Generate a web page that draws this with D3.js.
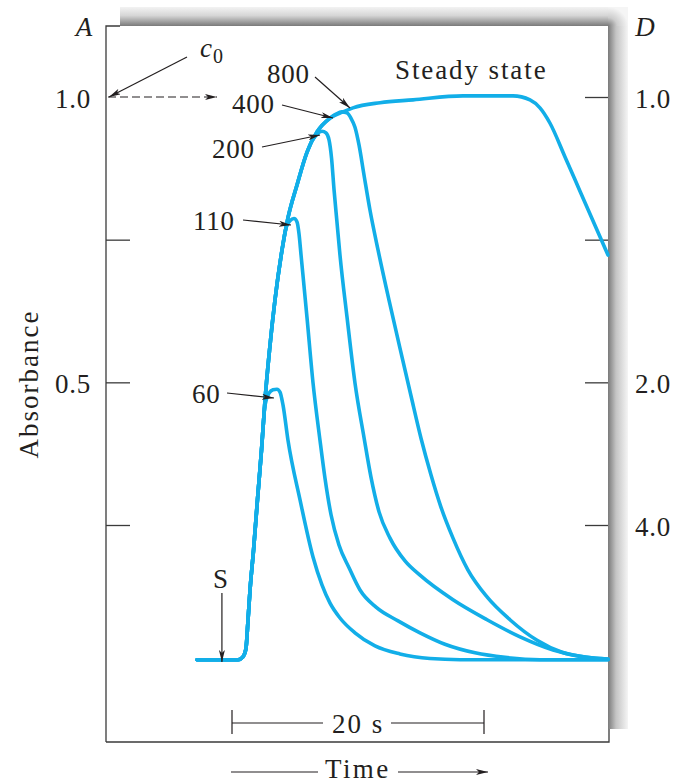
<!DOCTYPE html>
<html>
<head>
<meta charset="utf-8">
<script src="https://cdn.jsdelivr.net/npm/d3@7/dist/d3.min.js"></script>
<style>
  html, body { margin: 0; padding: 0; background: #fff; }
  svg { display: block; }
  text { font-family: "Liberation Serif", "Times New Roman", serif; fill: #231f20; }
</style>
</head>
<body>
<svg id="chart" width="677" height="784"></svg>
<script>
// Time in seconds (origin at the start of the 20 s scale bar), absorbance A.
// Every injection shares the same leading edge; each peak leaves it at branchAt.
const riseEdge = [[-2.78,0.014],[0.48,0.014],[0.87,0.019],[1.11,0.034],[1.27,0.083],[1.43,0.136],
  [1.71,0.206],[2.02,0.294],[2.34,0.381],[2.62,0.469],[2.98,0.557],[3.41,0.644],[3.97,0.732],
  [4.44,0.788],[5.16,0.846],[5.95,0.903],[6.75,0.939],[7.78,0.963],[8.81,0.974]];

const sampleVolumes = [60, 110, 200, 400, 800];
const branchTimes   = [2.34, 3.97, 5.95, 7.78, 8.81];

const tail60 = [[2.62,0.460],[2.94,0.481],[3.25,0.487],[3.57,0.488],[3.81,0.483],[4.05,0.460],
  [4.44,0.399],[5.40,0.294],[6.43,0.194],[7.14,0.145],[7.78,0.113],[8.57,0.087],[9.76,0.061],
  [11.35,0.038],[13.33,0.024],[15.71,0.016],[18.10,0.014],[29.84,0.014]];
const tail110 = [[4.29,0.771],[4.60,0.783],[4.92,0.787],[5.16,0.781],[5.32,0.760],[5.48,0.723],
  [5.95,0.614],[6.43,0.499],[6.98,0.399],[7.38,0.332],[7.86,0.268],[8.49,0.215],[9.29,0.175],
  [10.16,0.136],[11.43,0.106],[13.18,0.082],[14.92,0.061],[16.90,0.041],[19.29,0.026],
  [21.67,0.018],[24.44,0.014],[29.84,0.014]];
const tail200 = [[6.35,0.923],[6.75,0.935],[7.14,0.940],[7.46,0.937],[7.70,0.925],[7.90,0.893],
  [8.10,0.837],[8.33,0.781],[8.57,0.723],[9.13,0.614],[9.76,0.499],[10.48,0.403],[11.03,0.334],
  [11.67,0.273],[12.54,0.227],[13.73,0.187],[14.92,0.162],[17.54,0.119],[20.24,0.084],
  [22.86,0.054],[25.48,0.031],[27.62,0.020],[29.84,0.015]];
const tail400 = [[8.25,0.970],[8.73,0.974],[9.13,0.972],[9.44,0.963],[9.76,0.947],[10.08,0.916],
  [10.48,0.863],[10.95,0.802],[11.59,0.732],[12.46,0.644],[13.33,0.560],[14.21,0.476],
  [15.00,0.402],[15.79,0.338],[16.59,0.281],[17.54,0.227],[18.73,0.171],[20.24,0.124],
  [22.06,0.084],[24.21,0.048],[26.19,0.027],[28.17,0.018],[29.84,0.015]];
// 800 uL reaches the steady-state plateau before the trailing edge
const tail800 = [[9.60,0.981],[11.75,0.990],[14.37,0.995],[18.33,1.002],[22.30,1.002],
  [23.65,0.995],[24.44,0.981],[25.24,0.954],[26.43,0.895],[27.62,0.835],[29.84,0.723]];
const tails = [tail60, tail110, tail200, tail400, tail800];

// Axis ticks: absorbance on the left, dispersion D = c0/cmax on the right
const leftTicks   = [0.75, 0.5, 0.25];
const leftLabels  = [1.0, 0.5];
const rightTicks  = [1.0, 0.75, 0.5, 0.25];
const dispersionLabels = [1.0, 2.0, 4.0];
const injectionTime = -0.8;   // "S" marks the injection
const scaleBarSeconds = 20;

const svg = d3.select("#chart");
const ink = "#231f20";
const blue = "#12aee8";

const x = d3.scaleLinear().domain([0, 20]).range([232, 484]);
const y = d3.scaleLinear().domain([0.25, 1]).range([525, 97]);

const plot = { left: 106, right: 608, top: 26, bottom: 742 };

// ---- page shadow behind the plot frame ----
const defs = svg.append("defs");
const gTop = defs.append("linearGradient").attr("id", "shTop").attr("x1", 0).attr("y1", 0).attr("x2", 0).attr("y2", 1);
gTop.append("stop").attr("offset", "0%").attr("stop-color", "#f3f3f3");
gTop.append("stop").attr("offset", "45%").attr("stop-color", "#d6d6d6");
gTop.append("stop").attr("offset", "100%").attr("stop-color", "#7a7a7a");
const gRight = defs.append("linearGradient").attr("id", "shRight").attr("x1", 0).attr("y1", 0).attr("x2", 1).attr("y2", 0);
gRight.append("stop").attr("offset", "0%").attr("stop-color", "#7a7a7a");
gRight.append("stop").attr("offset", "40%").attr("stop-color", "#c4c4c4");
gRight.append("stop").attr("offset", "100%").attr("stop-color", "#f5f5f5");
const gCorner = defs.append("radialGradient").attr("id", "shCorner")
  .attr("cx", 0).attr("cy", 1).attr("r", 1);
gCorner.append("stop").attr("offset", "0%").attr("stop-color", "#7a7a7a");
gCorner.append("stop").attr("offset", "45%").attr("stop-color", "#cdcdcd");
gCorner.append("stop").attr("offset", "100%").attr("stop-color", "#f5f5f5");

svg.append("rect").attr("x", 120).attr("y", 7).attr("width", plot.right - 120).attr("height", plot.top - 7)
  .attr("fill", "url(#shTop)");
svg.append("rect").attr("x", plot.right).attr("y", plot.top).attr("width", 20).attr("height", 729 - plot.top)
  .attr("fill", "url(#shRight)");
svg.append("rect").attr("x", plot.right).attr("y", 7).attr("width", 20).attr("height", plot.top - 7)
  .attr("fill", "url(#shCorner)");

// ---- frame ----
svg.append("path")
  .attr("d", `M${plot.left},${plot.bottom}V${plot.top}H120M${plot.left},${plot.bottom}H${plot.right + 1}V729`)
  .attr("fill", "none").attr("stroke", "#3b3b3b").attr("stroke-width", 1.3);

// ---- ticks (inward) ----
const leftAxis = svg.append("g").attr("transform", `translate(${plot.left},0)`)
  .call(d3.axisRight(y).tickValues(leftTicks).tickSize(24).tickFormat(""));
const rightAxis = svg.append("g").attr("transform", `translate(${plot.right},0)`)
  .call(d3.axisLeft(y).tickValues(rightTicks).tickSize(23).tickFormat(""));
[leftAxis, rightAxis].forEach(g => {
  g.select(".domain").remove();
  g.selectAll(".tick line").attr("stroke", "#3b3b3b").attr("stroke-width", 1.3);
});

const fs = 27;
const txt = (xx, yy, s, opts = {}) => {
  const t = svg.append("text").attr("x", xx).attr("y", yy).text(s)
    .attr("font-size", opts.size || fs)
    .attr("letter-spacing", opts.ls != null ? opts.ls : 1.8);
  if (opts.italic) t.attr("font-style", "italic");
  if (opts.anchor) t.attr("text-anchor", opts.anchor);
  return t;
};

leftLabels.forEach(v => txt(55, y(v) + 11, d3.format(".1f")(v), { ls: 0.8 }));
dispersionLabels.forEach(d => txt(635, y(1 / d) + 11, d3.format(".1f")(d), { ls: 0.8 }));
txt(84, 36, "A", { italic: true, anchor: "middle", ls: 0 });
txt(645, 36, "D", { italic: true, anchor: "middle", ls: 0 });

svg.append("text").attr("transform", "translate(38,384) rotate(-90)")
  .attr("text-anchor", "middle").attr("font-size", fs).attr("letter-spacing", 2)
  .text("Absorbance");

// ---- curves ----
const line = d3.line().x(d => x(d[0])).y(d => y(d[1])).curve(d3.curveMonotoneX);
const curves = sampleVolumes.map((v, i) =>
  riseEdge.filter(p => p[0] <= branchTimes[i]).concat(tails[i]));

svg.append("g").selectAll("path").data(curves).join("path")
  .attr("d", line)
  .attr("fill", "none").attr("stroke", blue).attr("stroke-width", 3.6)
  .attr("stroke-linejoin", "round").attr("stroke-linecap", "round");

// ---- arrows and annotations ----
const head = defs.append("marker").attr("id", "head").attr("viewBox", "0 0 12 6")
  .attr("refX", 12).attr("refY", 3).attr("markerWidth", 12).attr("markerHeight", 6)
  .attr("markerUnits", "userSpaceOnUse").attr("orient", "auto");
head.append("path").attr("d", "M0,0L12,3L0,6L3,3Z").attr("fill", ink);

const arrow = (x1, y1, x2, y2, dash) => {
  const l = svg.append("line").attr("x1", x1).attr("y1", y1).attr("x2", x2).attr("y2", y2)
    .attr("stroke", ink).attr("stroke-width", 1.2).attr("marker-end", "url(#head)");
  if (dash) l.attr("stroke-dasharray", dash);
  return l;
};

// c0 and the dashed reference to the plateau level
svg.append("text").attr("x", 200).attr("y", 57).attr("font-size", fs)
  .call(t => {
    t.append("tspan").attr("font-style", "italic").text("c");
    t.append("tspan").attr("font-size", 20).attr("dy", 6).attr("dx", 1).text("0");
  });
arrow(187, 57, 109, 97);
arrow(108, y(1), 217, y(1), "8,4");

// peak labels
const peakLabels = [
  { v: 60,  tx: 192, ty: 403, a: [227, 393, 274, 398] },
  { v: 110, tx: 193, ty: 230, a: [243, 220, 291, 225] },
  { v: 200, tx: 212, ty: 158, a: [262, 147, 320, 135] },
  { v: 400, tx: 232, ty: 113, a: [282, 105, 333, 118] },
  { v: 800, tx: 267, ty: 83,  a: [315, 77, 350, 108] }
];
peakLabels.forEach(p => {
  txt(p.tx, p.ty, String(p.v), { ls: 0.8 });
  arrow(...p.a);
});
txt(395, 79, "Steady state", { ls: 1.9 });

// injection marker
txt(213, 588, "S", { ls: 0 });
arrow(x(injectionTime), 593, x(injectionTime), 662);

// 20 s scale bar
const barY = 723;
svg.append("path")
  .attr("d", `M${x(0)},710V734M${x(0)},${barY}H323M391,${barY}H${x(scaleBarSeconds)}M${x(scaleBarSeconds)},710V734`)
  .attr("fill", "none").attr("stroke", ink).attr("stroke-width", 1.2);
txt(332, 733, scaleBarSeconds + " s", { ls: 2 });

// time direction
svg.append("line").attr("x1", 231).attr("x2", 318).attr("y1", 772).attr("y2", 772)
  .attr("stroke", ink).attr("stroke-width", 1.2);
arrow(398, 772, 488, 772);
txt(325, 778, "Time", { ls: 2.4 });
</script>
</body>
</html>
